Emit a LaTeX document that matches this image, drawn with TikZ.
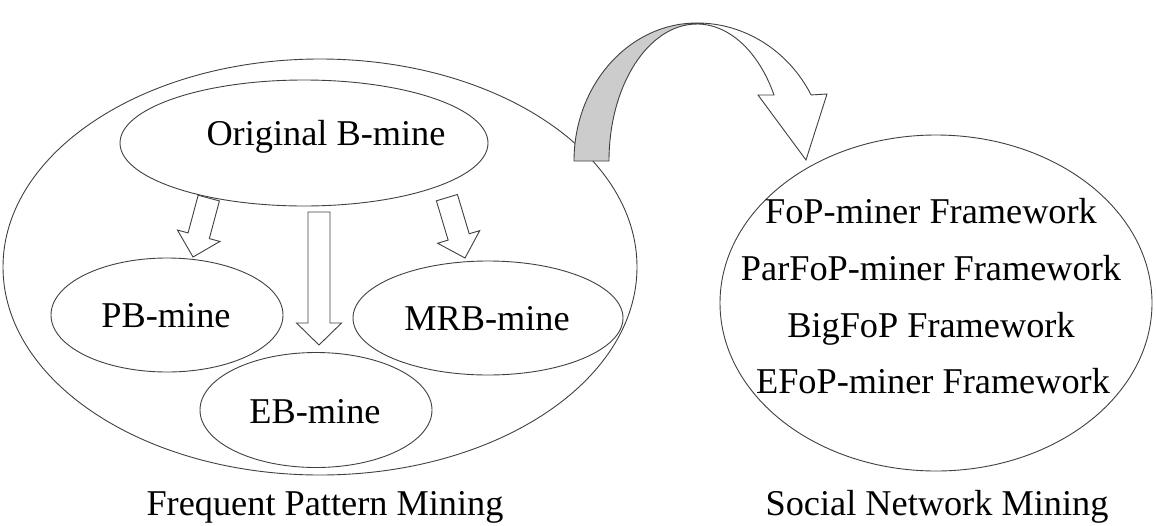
\documentclass[tikz,border=0pt]{standalone}
\usepackage{fontspec}
\setmainfont{Liberation Serif}
\usetikzlibrary{shapes.geometric}
\begin{document}
\begin{tikzpicture}[x=1pt,y=-1pt,
  outline/.style={draw=black!75, line width=0.9pt},
  oval/.style={outline, ellipse, inner sep=0pt},
  txt/.style={anchor=base, inner sep=0pt, font=\fontsize{36.3}{40}\selectfont},
  blockarrow/.style={outline, fill=white, line join=miter}]
\useasboundingbox (0,0) rectangle (1156,525);
% ellipses
\node[oval, minimum width=634pt, minimum height=416pt] (fpm) at (320,267) {};
\node[oval, minimum width=368pt, minimum height=126pt] (orig) at (304,143) {};
\node[oval, minimum width=232pt, minimum height=114pt] (pb) at (167,315) {};
\node[oval, minimum width=270pt, minimum height=114pt] (mrb) at (488,318) {};
\node[oval, minimum width=232pt, minimum height=115pt] (eb) at (316,410) {};
\node[oval, minimum width=432pt, minimum height=336pt] (snm) at (936,303) {};
% texts
\node[txt] (torig) at (326,145) {Original B-mine};
\node[txt] (tpb) at (166,327) {PB-mine};
\node[txt] (tmrb) at (487,330) {MRB-mine};
\node[txt] (teb) at (315,423) {EB-mine};
\node[txt] (f1) at (931,223) {FoP-miner Framework};
\node[txt] (f2) at (931,280) {ParFoP-miner Framework};
\node[txt] (f3) at (931,337) {BigFoP Framework};
\node[txt] (f4) at (933,393) {EFoP-miner Framework};
\node[txt] (lfpm) at (325,515) {Frequent Pattern Mining};
\node[txt] (lsnm) at (937,515) {Social Network Mining};
% block arrows
\draw[blockarrow, shift={(193,257)}, rotate=-15]
  (0,0) -- (-22,-22) -- (-11,-22) -- (-11,-61) -- (11,-61) -- (11,-22) -- (22,-22) -- cycle;
\draw[blockarrow, shift={(465,258)}, rotate=16.7]
  (0,0) -- (-22,-22) -- (-11,-22) -- (-11,-63) -- (11,-63) -- (11,-22) -- (22,-22) -- cycle;
\draw[blockarrow, shift={(319,345)}]
  (0,0) -- (-22.5,-22) -- (-11,-22) -- (-11,-133) -- (11,-133) -- (11,-22) -- (22.5,-22) -- cycle;
% curved arrow
\filldraw[outline, fill=white, line join=miter] (697,23)
  arc[start angle=270, end angle=331.4, x radius=130, y radius=138]
  -- (827,94) -- (806,160) -- (758,95) -- (774,95)
  arc[start angle=331.2, end angle=270, x radius=88, y radius=137] -- cycle;
\filldraw[outline, fill=gray!40] (574,161)
  arc[start angle=180, end angle=270, x radius=123, y radius=138] -- (697,24)
  arc[start angle=270, end angle=180, x radius=88, y radius=137] -- cycle;
\end{tikzpicture}
\end{document}
